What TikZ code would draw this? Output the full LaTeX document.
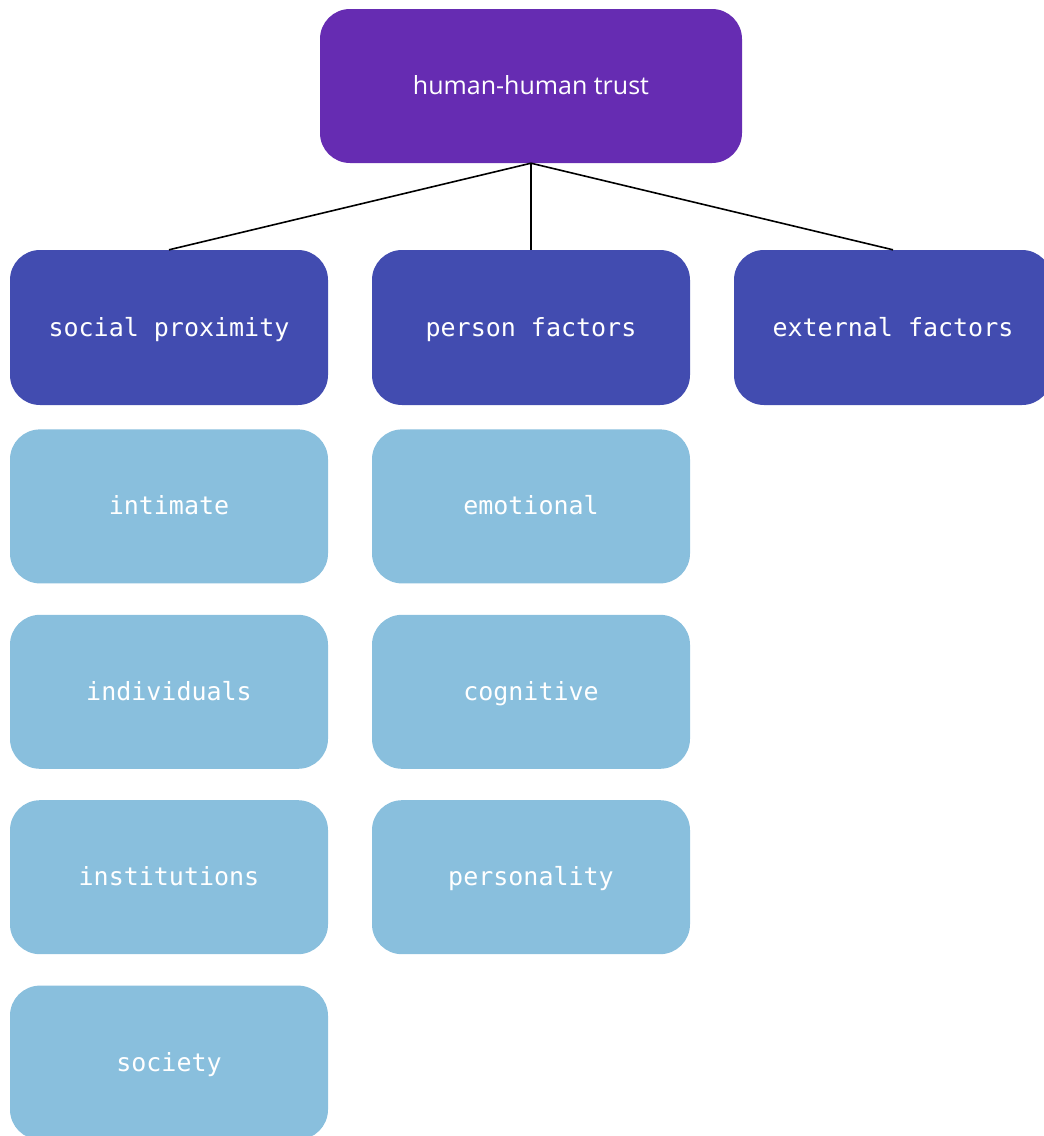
\documentclass[tikz,border=0pt]{standalone}
\usepackage{fontspec}
\setmainfont{Open Sans}
\setmonofont{DejaVu Sans Mono}
\usepackage{xcolor}
\usepackage{tikz}
\usetikzlibrary{positioning}
\definecolor{trustPurple}{RGB}{102,44,178}
\definecolor{catBlue}{RGB}{66,76,176}
\definecolor{subBlue}{RGB}{137,191,221}

\begin{document}
\begin{tikzpicture}[x=1pt, y=1pt,
					grow=down,
					level 1/.style={level distance=241.5pt, sibling distance=362pt}
					]
					\tikzset{
						rootnode/.style={
							shape=rectangle,
							rounded corners=30pt,
							fill=trustPurple,
							minimum width=422pt,
							minimum height=154pt,
							inner sep=0pt,
							text height=20pt,
							text depth=3pt,
							font=\fontsize{25}{30}\selectfont,
							text=white
						},
						catnode/.style={
							shape=rectangle,
							rounded corners=30pt,
							fill=catBlue,
							minimum width=318pt,
							minimum height=155pt,
							inner sep=0pt,
							text height=20pt,
							text depth=3pt,
							font=\ttfamily\fontsize{25}{30}\selectfont,
							text=white
						},
						subnode/.style={catnode, fill=subBlue, minimum height=154pt},
						treeedge/.style={draw=black,line width=1.6pt},
						edge from parent/.style={treeedge},
						edge from parent path={(\tikzparentnode.south) -- (\tikzchildnode.north)}
					}
					\useasboundingbox (0,0) rectangle (1044,-1136);
					
					% oben: Wurzel, darunter die drei Kategorien
					\node[rootnode] (trust) at (531,-86) {human-human trust}
					child { node[catnode] (social) {social proximity} }
					child { node[catnode] (person) {person factors} }
					child { node[catnode] (external) {external factors} };
					
					% Spalte links
					\node[subnode, below=24pt of social] (intimate) {intimate};
					\node[subnode, below=31pt of intimate] (individuals) {individuals};
					\node[subnode, below=31pt of individuals] (institutions) {institutions};
					\node[subnode, below=31pt of institutions] (society) {society};
					
					% Spalte Mitte
					\node[subnode, below=24pt of person] (emotional) {emotional};
					\node[subnode, below=31pt of emotional] (cognitive) {cognitive};
					\node[subnode, below=31pt of cognitive] (personality) {personality};
				\end{tikzpicture}
\end{document}
